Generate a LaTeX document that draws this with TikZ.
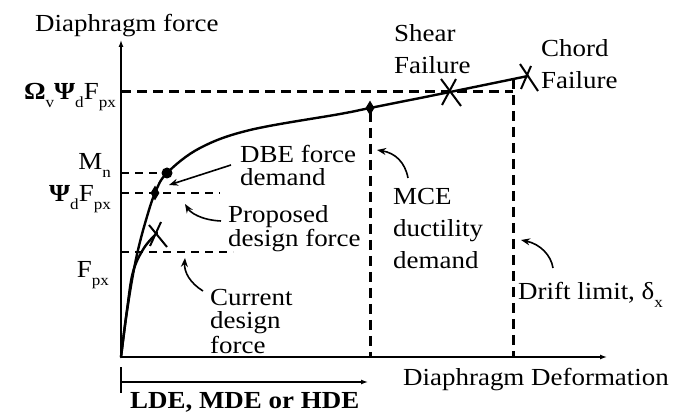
\documentclass[tikz,border=0pt]{standalone}
\usepackage{fontspec}
\setmainfont{Liberation Serif}[FakeStretch=1.1]
\usetikzlibrary{arrows.meta,shapes.geometric}
\newcommand{\sub}[1]{\raisebox{-0.3em}{\fontsize{15.5}{15.5}\selectfont #1}}
\begin{document}
\begin{tikzpicture}[x=1pt,y=-1pt,
  txt/.style={font=\fontsize{24.5}{23}\selectfont, inner sep=0pt, align=left},
  axis/.style={line width=1.3pt, -{Latex[length=7pt,width=5pt]}},
  bigdash/.style={line width=3pt, dash pattern=on 10pt off 6pt},
  smalldash/.style={line width=1.8pt, dash pattern=on 8pt off 6pt},
  curve/.style={line width=2.4pt, line cap=round, line join=round},
  callout/.style={line width=1.6pt, -{Stealth[length=9pt,width=7pt]}},
  xmark/.style={line width=2pt},
  dot/.style={circle, fill=black, minimum size=11pt, inner sep=0pt},
  dia/.style={diamond, fill=black, minimum width=9pt, minimum height=15pt, inner sep=0pt}
]
\fill[white] (0,0) rectangle (678,414);
\useasboundingbox (0,0) rectangle (678,414);

% axes
\coordinate (O) at (121,357);
\coordinate (ytop) at (121,40);
\coordinate (xend) at (607,357);
\draw[axis] (O) -- (ytop);
\draw[axis] (O) -- (xend);
\node[txt, anchor=base west] (ylab) at (35,32) {Diaphragm force};
\node[txt, anchor=base west] (xlab) at (403,385) {Diaphragm Deformation};

% LDE range arrow
\coordinate (t1) at (121,367); \coordinate (t2) at (121,393);
\draw[line width=1.3pt] (t1) -- (t2);
\coordinate (l1) at (121,382); \coordinate (l2) at (368,382);
\draw[axis] (l1) -- (l2);
\node[txt, anchor=base west, font=\fontsize{24.5}{23}\selectfont\bfseries] (lde) at (130,408) {LDE, MDE or HDE};

% dashed reference lines
\coordinate (om1) at (121,92);  \coordinate (om2) at (513,92);
\coordinate (dl1) at (513,79);  \coordinate (dl2) at (513,357);
\coordinate (mc1) at (370,112); \coordinate (mc2) at (370,357);
\coordinate (mn1) at (121,173); \coordinate (mn2) at (162,173);
\coordinate (ps1) at (121,193); \coordinate (ps2) at (220,193);
\coordinate (fp1) at (121,252); \coordinate (fp2) at (233,252);
\draw[bigdash] (om1) -- (om2);
\draw[bigdash] (dl1) -- (dl2);
\draw[bigdash] (mc1) -- (mc2);
\draw[smalldash] (mn1) -- (mn2);
\draw[smalldash] (ps1) -- (ps2);
\draw[smalldash] (fp1) -- (fp2);

% curves
\draw[curve] plot[smooth, tension=0.6] coordinates {(121,357) (126,318) (132,280) (138,250) (146,220) (155,193) (167,173) (200,148) (250,130) (340,114) (370,108) (450,92) (528,76)};
\draw[curve] plot[smooth, tension=0.6] coordinates {(121,357) (127,310) (133,272) (144,248) (157,233)};

% markers
\node[dot] (mn) at (167,173) {};
\node[dia] (dbe) at (155,193) {};
\node[dia] (mce) at (370,108) {};
\draw[xmark] (150,246) -- (161,222);
\draw[xmark] (149,225) -- (167,247);
\draw[xmark] (441,79) -- (461,106);
\draw[xmark] (442,105) -- (456,79);
\draw[xmark] (520,64) -- (538,91);
\draw[xmark] (521,89) -- (531,66);

% y labels
\node[txt, anchor=base east] (lom) at (116,100) {\textbf{Ω}\sub{v}\textbf{Ψ}\sub{d}F\sub{px}};
\node[txt, anchor=base east] (lmn) at (111,170) {M\sub{n}};
\node[txt, anchor=base east] (lps) at (111,202) {\textbf{Ψ}\sub{d}F\sub{px}};
\node[txt, anchor=base east] (lfp) at (109,278) {F\sub{px}};

% annotations (base anchor = baseline of last line)
\node[txt, anchor=base west] (tdbe) at (240,186) {DBE force\\demand};
\node[txt, anchor=base west, font=\fontsize{24.5}{24}\selectfont] (tpro) at (228,247) {Proposed\\design force};
\node[txt, anchor=base west, font=\fontsize{24.5}{24}\selectfont] (tcur) at (210,353) {Current\\design\\force};
\node[txt, anchor=base west, font=\fontsize{24.5}{32}\selectfont] (tmce) at (393,269) {MCE\\ductility\\demand};
\node[txt, anchor=base west, font=\fontsize{24.5}{32}\selectfont] (tshe) at (394,74) {Shear\\Failure};
\node[txt, anchor=base west, font=\fontsize{24.5}{32}\selectfont] (tcho) at (541,89) {Chord\\Failure};
\node[txt, anchor=base west] (tdri) at (518,300) {Drift limit, δ\sub{x}};

% callout arrows
\coordinate (a1) at (231,165); \coordinate (a2) at (169,185);
\draw[callout] (a1) -- (a2);
\coordinate (b1) at (221,221); \coordinate (b2) at (185,204);
\draw[callout] (b1) .. controls (200,220) and (190,212) .. (b2);
\coordinate (c1) at (203,291); \coordinate (c2) at (185,258);
\draw[callout] (c1) .. controls (190,283) and (184,272) .. (c2);
\coordinate (d1) at (408,178); \coordinate (d2) at (377,150);
\draw[callout] (d1) .. controls (405,162) and (395,153) .. (d2);
\coordinate (e1) at (553,268); \coordinate (e2) at (521,240);
\draw[callout] (e1) .. controls (551,255) and (540,244) .. (e2);
\end{tikzpicture}
\end{document}
